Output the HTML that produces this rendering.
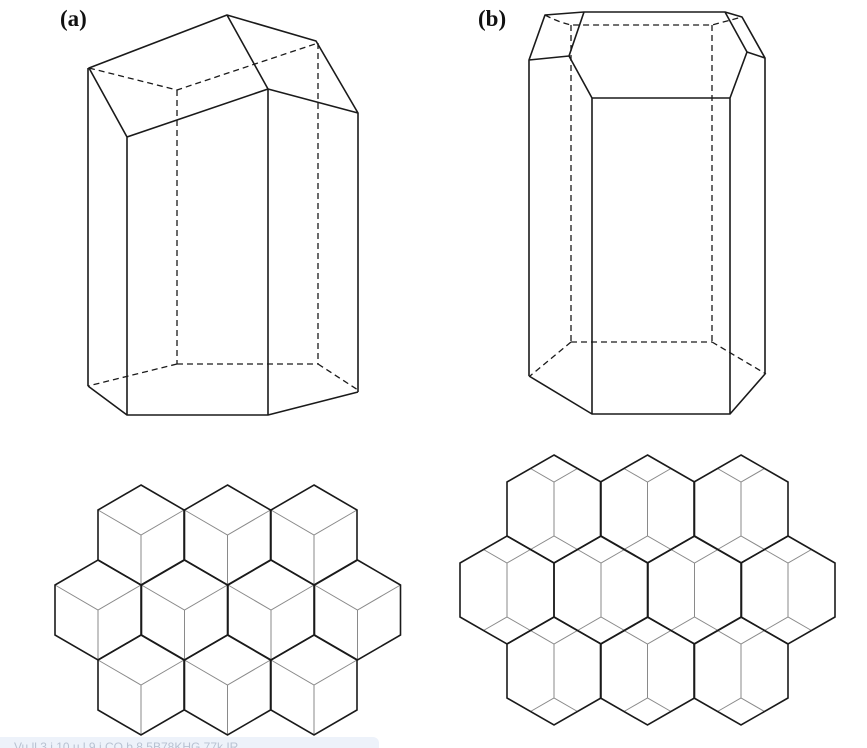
<!DOCTYPE html>
<html><head><meta charset="utf-8"><style>
html,body{margin:0;padding:0;background:#fff;width:867px;height:748px;overflow:hidden;position:relative}
svg{position:absolute;left:0;top:0}
.lab{position:absolute;font-family:"Liberation Serif",serif;font-weight:bold;font-size:23px;color:#111}
.wm{position:absolute;left:0;top:737px;width:365px;height:14px;background:#edf2fa;border-radius:0 6px 0 0;font-family:"Liberation Sans",sans-serif;font-size:12px;color:#b8c2d2;padding-left:14px;line-height:20px;overflow:hidden;white-space:nowrap}
</style></head><body>
<svg width="867" height="748" viewBox="0 0 867 748">
<defs>
<g id="cg"><path d="M-43,-25 L0,0 L43,-25 M0,0 L0,50" fill="none" stroke="#8a8a8a" stroke-width="1"/></g>
<g id="cb"><path d="M0,-50 L43,-25 L43,25 L0,50 L-43,25 L-43,-25 Z" fill="none" stroke="#1a1a1a" stroke-width="1.6"/></g>
<g id="hg"><path d="M-23.5,-40.5 L0,-27 L23.5,-40.5 M0,-27 V27 M-23.5,40.5 L0,27 L23.5,40.5" fill="none" stroke="#8a8a8a" stroke-width="1"/></g>
<g id="hb"><path d="M0,-54 L47,-27 L47,27 L0,54 L-47,27 L-47,-27 Z" fill="none" stroke="#1a1a1a" stroke-width="1.6"/></g>
</defs>
<g fill="none" stroke="#1a1a1a" stroke-width="1.6" stroke-linejoin="round">
<!-- (a) -->
<g stroke-dasharray="6,4" stroke-width="1.3">
<path d="M89,68 L177,90 L318,43 M177,90 V364 M318,43 V364 M177,364 H318 M177,364 L88,386 M318,364 L358,390"/>
</g>
<path d="M89,68 L227,15 L316,41 L358,113 L268,89 L127,137 Z M227,15 L268,89 M88,68 V386 M127,137 V415 M268,89 V415 M358,113 V392 M88,386 L127,415 L268,415 L358,392"/>
<!-- (b) -->
<g stroke-dasharray="6,4" stroke-width="1.3">
<path d="M545,15 Q558,22 571,25 L712,25 L742,17 M571,25 V342 M712,25 V342 M571,342 H712 M571,342 L530,376 M712,342 L766,374"/>
</g>
<path d="M545,15 L584,12 L725,12 L742,17 L765,58 L747,52 L730,98 L592,98 L569,56 L529,60 Z M584,12 L569,56 M725,12 L747,52 M529,60 V376 M592,98 V414 M730,98 V414 M765,58 V374 M529,376 L592,414 L730,414 L765,374"/>
</g>
<!-- cubes -->
<use href="#cg" x="141" y="535"/><use href="#cg" x="227.5" y="535"/><use href="#cg" x="314" y="535"/>
<use href="#cg" x="98" y="610"/><use href="#cg" x="184.5" y="610"/><use href="#cg" x="271" y="610"/><use href="#cg" x="357.5" y="610"/>
<use href="#cg" x="141" y="685"/><use href="#cg" x="227.5" y="685"/><use href="#cg" x="314" y="685"/>
<use href="#cb" x="141" y="535"/><use href="#cb" x="227.5" y="535"/><use href="#cb" x="314" y="535"/>
<use href="#cb" x="98" y="610"/><use href="#cb" x="184.5" y="610"/><use href="#cb" x="271" y="610"/><use href="#cb" x="357.5" y="610"/>
<use href="#cb" x="141" y="685"/><use href="#cb" x="227.5" y="685"/><use href="#cb" x="314" y="685"/>
<!-- hex prisms -->
<use href="#hg" x="554" y="509"/><use href="#hg" x="647.5" y="509"/><use href="#hg" x="741" y="509"/>
<use href="#hg" x="507" y="590"/><use href="#hg" x="601" y="590"/><use href="#hg" x="694.5" y="590"/><use href="#hg" x="788" y="590"/>
<use href="#hg" x="554" y="671"/><use href="#hg" x="647.5" y="671"/><use href="#hg" x="741" y="671"/>
<use href="#hb" x="554" y="509"/><use href="#hb" x="647.5" y="509"/><use href="#hb" x="741" y="509"/>
<use href="#hb" x="507" y="590"/><use href="#hb" x="601" y="590"/><use href="#hb" x="694.5" y="590"/><use href="#hb" x="788" y="590"/>
<use href="#hb" x="554" y="671"/><use href="#hb" x="647.5" y="671"/><use href="#hb" x="741" y="671"/>
</svg>
<div class="lab" style="left:60px;top:6px">(a)</div>
<div class="lab" style="left:478px;top:6px">(b)</div>
<div class="wm">Vu ll 3 i 10 u l 9 i CO b 8 5B78KHG 77k IR</div>
</body></html>
